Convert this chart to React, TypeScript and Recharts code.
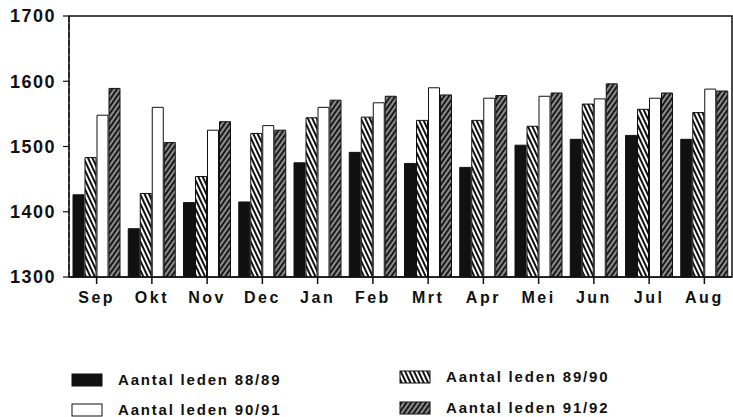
import React from 'react';
import { BarChart, Bar, XAxis, YAxis, Legend, ReferenceArea } from 'recharts';

const months = ['Sep', 'Okt', 'Nov', 'Dec', 'Jan', 'Feb', 'Mrt', 'Apr', 'Mei', 'Jun', 'Jul', 'Aug'];
const leden8889 = [1426, 1374, 1414, 1415, 1475, 1491, 1474, 1468, 1502, 1511, 1517, 1511];
const leden8990 = [1483, 1428, 1454, 1520, 1544, 1545, 1540, 1540, 1531, 1565, 1557, 1552];
const leden9091 = [1548, 1560, 1525, 1532, 1560, 1567, 1590, 1574, 1577, 1573, 1574, 1588];
const leden9192 = [1589, 1506, 1538, 1525, 1571, 1577, 1579, 1578, 1582, 1596, 1582, 1585];
const yTicks = [1300, 1400, 1500, 1600, 1700];

const data = months.map((m, i) => ({
  month: m,
  a: leden8889[i],
  b: leden8990[i],
  c: leden9091[i],
  d: leden9192[i],
}));

const series = [
  { key: 'a', name: 'Aantal leden 88/89', fill: '#111' },
  { key: 'b', name: 'Aantal leden 89/90', fill: 'url(#hatch8990)' },
  { key: 'c', name: 'Aantal leden 90/91', fill: '#fff' },
  { key: 'd', name: 'Aantal leden 91/92', fill: 'url(#hatch9192)' },
];

const font = '"Liberation Sans", Arial, sans-serif';

function Swatch({ fill }: { fill: string }) {
  return (
    <svg width={32} height={14} style={{ display: 'block' }}>
      <rect x={1} y={1} width={30} height={12} fill={fill} stroke='#111' strokeWidth={1} />
    </svg>
  );
}

function LegendItem({ s, left, top }: { s: (typeof series)[number]; left: number; top: number }) {
  return (
    <div style={{ position: 'absolute', left, top, display: 'flex', alignItems: 'center' }}>
      <Swatch fill={s.fill} />
      <span
        style={{
          marginLeft: 15,
          fontFamily: font,
          fontWeight: 'bold',
          fontSize: 15,
          letterSpacing: 1.8,
          color: '#111',
        }}
      >
        {s.name}
      </span>
    </div>
  );
}

// legend laid out in two columns like the original
function LegendBlock() {
  return (
    <div style={{ position: 'relative', width: 733, height: 57 }}>
      <LegendItem s={series[0]} left={71} top={11} />
      <LegendItem s={series[1]} left={399} top={8} />
      <LegendItem s={series[2]} left={71} top={41} />
      <LegendItem s={series[3]} left={399} top={39} />
    </div>
  );
}

export default function App() {
  return (
    <div style={{ position: 'absolute', left: 0, top: 0, background: '#fff' }}>
      <BarChart
        width={733}
        height={417}
        data={data}
        margin={{ top: 16, right: 1, left: 0, bottom: 53 }}
        barCategoryGap={4}
        barGap={1}
      >
        <defs>
          <pattern id='hatch8990' width={4} height={4} patternUnits='userSpaceOnUse' patternTransform='rotate(-25)'>
            <rect width={4} height={4} fill='#fff' />
            <line x1={1} y1={0} x2={1} y2={4} stroke='#111' strokeWidth={2} />
          </pattern>
          <pattern id='hatch9192' width={4} height={4} patternUnits='userSpaceOnUse' patternTransform='rotate(35)'>
            <rect width={4} height={4} fill='#1a1a1a' />
            <line x1={1} y1={0} x2={1} y2={4} stroke='#fff' strokeWidth={1} />
          </pattern>
        </defs>
        <ReferenceArea y1={1300} y2={1700} fill='none' stroke='#111' strokeWidth={1.5} ifOverflow='visible' />
        <XAxis
          dataKey='month'
          stroke='#111'
          strokeWidth={1.5}
          tickSize={7}
          tickMargin={8}
          height={30}
          tick={{ fontFamily: font, fontWeight: 'bold', fontSize: 16, letterSpacing: 2.5, fill: '#111' }}
        />
        <YAxis
          domain={[1300, 1700]}
          ticks={yTicks}
          width={69}
          stroke='#111'
          strokeWidth={1.2}
          strokeDasharray='6 2'
          tickSize={6}
          tickMargin={7}
          tick={{ fontFamily: font, fontWeight: 'bold', fontSize: 18, letterSpacing: 1.5, fill: '#111' }}
          allowDataOverflow
        />
        <Legend
          verticalAlign='bottom'
          content={() => <LegendBlock />}
          wrapperStyle={{ left: 0, top: 360, width: 733 }}
        />
        {series.map((s) => (
          <Bar
            key={s.key}
            dataKey={s.key}
            name={s.name}
            fill={s.fill}
            stroke='#111'
            strokeWidth={1}
            isAnimationActive={false}
          />
        ))}
      </BarChart>
    </div>
  );
}
